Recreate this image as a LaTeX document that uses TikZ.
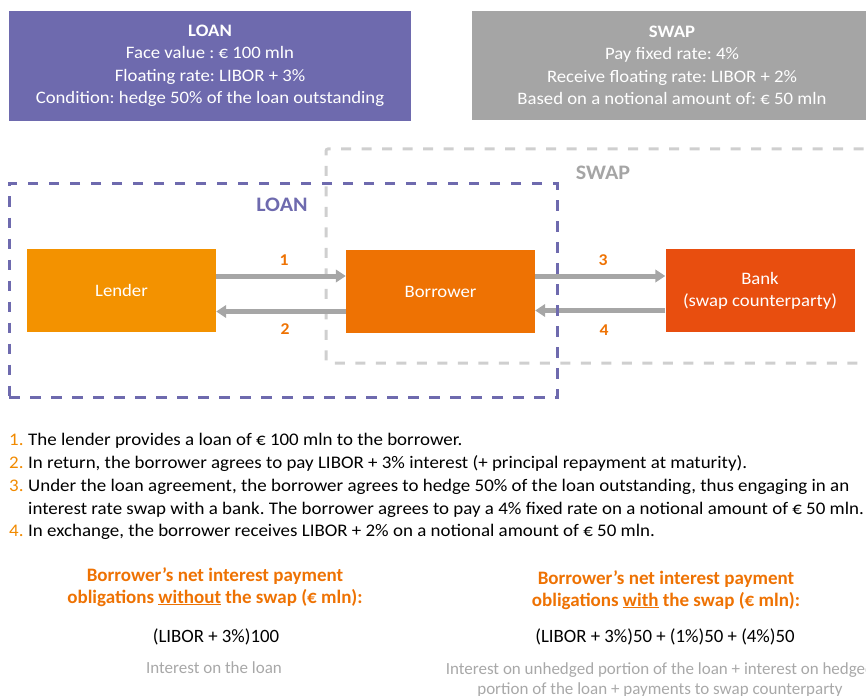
\documentclass[tikz,border=0pt]{standalone}
\usepackage{fontspec}
\setmainfont{Carlito}
\newfontfamily\widefont{Carlito}[FakeStretch=1.07]
\usetikzlibrary{arrows.meta}
\frenchspacing
\definecolor{loanpurple}{HTML}{6E6AAE}
\definecolor{swapgrey}{HTML}{A5A5A5}
\definecolor{framegrey}{HTML}{CFCFCF}
\definecolor{arrowgrey}{HTML}{A6A6A6}
\definecolor{lenderorange}{HTML}{F39200}
\definecolor{borrowerorange}{HTML}{EE7203}
\definecolor{bankred}{HTML}{E84E0F}
\definecolor{noteorange}{HTML}{EE7203}
\definecolor{listorange}{HTML}{F18A00}
\definecolor{textgrey}{HTML}{A8A8A8}
\newcommand{\fs}[2]{\fontsize{#1}{#2}\selectfont}
\tikzset{
  termsbox/.style={rectangle, inner sep=0pt, text=white, align=center,
    font=\widefont\fs{17.5}{22.5}},
  party/.style={rectangle, inner sep=0pt, text=white, align=center,
    minimum width=189pt, minimum height=83pt, font=\widefont\fs{17.5}{22}},
  loanframe/.style={rectangle, draw=loanpurple, line width=3pt,
    dash pattern=on 10.5pt off 10.5pt, inner sep=0pt},
  swapframe/.style={rectangle, draw=framegrey, line width=3pt,
    dash pattern=on 10pt off 10.5pt, rounded corners=2pt, inner sep=0pt},
  framelabel/.style={font=\widefont\bfseries\fs{20.6}{22}},
  flow/.style={draw=arrowgrey, line width=5pt,
    -{Triangle[length=10pt,width=12.5pt]}},
  flownum/.style={font=\widefont\bfseries\fs{16.5}{18}, text=noteorange},
  listnum/.style={anchor=base west, inner sep=0pt, text=listorange,
    font=\widefont\fs{17.7}{22.7}},
  listtext/.style={anchor=base west, inner sep=0pt, align=left,
    font=\widefont\fs{17.7}{22.7}},
  heading/.style={anchor=base, inner sep=0pt, align=center, text=noteorange,
    font=\bfseries\fs{19}{22}},
  formula/.style={anchor=base, inner sep=0pt, font=\fs{18.8}{22}},
  note/.style={anchor=base, inner sep=0pt, align=center, text=textgrey,
    font=\fs{17}{19.5}}
}
\begin{document}
\begin{tikzpicture}[x=1pt,y=-1pt]
\useasboundingbox (0,0) rectangle (866,695);
\clip (0,0) rectangle (866,695);

% terms of the two contracts
\node[termsbox, fill=loanpurple, minimum width=402pt, minimum height=110pt]
  (loanterms) at (210,66)
  {\textbf{LOAN}\\Face value : € 100 mln\\Floating rate: LIBOR + 3\%\\Condition: hedge 50\% of the loan outstanding};
\node[termsbox, fill=swapgrey, minimum width=400pt, minimum height=109pt]
  (swapterms) at (672,65.5)
  {\textbf{SWAP}\\Pay fixed rate: 4\%\\Receive floating rate: LIBOR + 2\%\\Based on a notional amount of: € 50 mln};

% swap frame (runs off to the right)
\node[swapframe, minimum width=560pt, minimum height=214pt] (swaparea) at (606,256) {};
\node[framelabel, text=swapgrey] (swaplabel) at (603,173) {SWAP};

% parties
\node[party, fill=lenderorange] (lender) at (121.5,290.5) {Lender};
\node[party, fill=borrowerorange] (borrower) at (440.5,291.5) {Borrower};
\node[party, fill=bankred] (bank) at (760,290.5) {Bank\\(swap counterparty)};

% payment flows
\draw[flow] ([yshift=14.5pt]lender.east) -- ([yshift=14.5pt]lender.east -| borrower.west);
\draw[flow] ([yshift=-20pt]borrower.west) -- ([yshift=-20pt]borrower.west -| lender.east);
\draw[flow] ([yshift=15.5pt]borrower.east) -- ([yshift=15.5pt]borrower.east -| bank.west);
\draw[flow] ([yshift=-20pt]bank.west) -- ([yshift=-20pt]bank.west -| borrower.east);
\node[flownum] (n1) at (284,260) {1};
\node[flownum] (n2) at (285,329) {2};
\node[flownum] (n3) at (603,260) {3};
\node[flownum] (n4) at (604,330) {4};

% loan frame
\node[loanframe, minimum width=548pt, minimum height=214pt] (loanarea) at (283,290.5) {};
\node[framelabel, text=loanpurple] (loanlabel) at (282,205) {LOAN};

% numbered explanation
\node[listnum] (l1) at (9,445) {1.};
\node[listtext] (t1) at (28,445) {The lender provides a loan of € 100 mln to the borrower.};
\node[listnum] (l2) at (9,468) {2.};
\node[listtext] (t2) at (28,468) {In return, the borrower agrees to pay LIBOR + 3\% interest (+ principal repayment at maturity).};
\node[listnum] (l3) at (9,491) {3.};
\node[listtext] (t3) at (28,514) {Under the loan agreement, the borrower agrees to hedge 50\% of the loan outstanding, thus engaging in an\\interest rate swap with a bank. The borrower agrees to pay a 4\% fixed rate on a notional amount of € 50 mln.};
\node[listnum] (l4) at (9,536) {4.};
\node[listtext] (t4) at (28,536) {In exchange, the borrower receives LIBOR + 2\% on a notional amount of € 50 mln.};

% net obligations without the swap
\node[heading] (hwithout) at (215,603) {Borrower’s net interest payment\\obligations \underline{without} the swap (€ mln):};
\node[formula] (fwithout) at (216,642) {(LIBOR + 3\%)100};
\node[note] (nwithout) at (214,673) {Interest on the loan};

% net obligations with the swap
\node[heading] (hwith) at (666,606) {Borrower’s net interest payment\\obligations \underline{with} the swap (€ mln):};
\node[formula] (fwith) at (665,642) {(LIBOR + 3\%)50 + (1\%)50 + (4\%)50};
\node[note] (nwith) at (660,694) {Interest on unhedged portion of the loan + interest on hedged\\portion of the loan + payments to swap counterparty};
\end{tikzpicture}
\end{document}
